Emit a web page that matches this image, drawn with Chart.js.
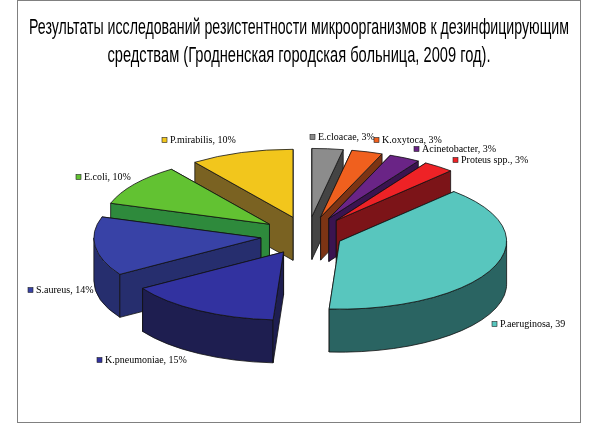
<!DOCTYPE html>
<html>
<head>
<meta charset="utf-8">
<script src="https://cdn.jsdelivr.net/npm/chart.js@4"></script>
<style>
  html, body { margin: 0; padding: 0; background: #fff; }
</style>
</head>
<body>
<canvas id="chart" width="600" height="424"></canvas>
<script>
// data (percent of isolates)
const organisms = ['E.cloacae', 'K.oxytoca', 'Acinetobacter', 'Proteus spp.', 'P.aeruginosa', 'K.pneumoniae', 'S.aureus', 'E.coli', 'P.mirabilis'];
const shares = [3, 3, 3, 3, 39, 15, 14, 10, 10];
const sliceLabels = ['E.cloacae, 3%', 'K.oxytoca, 3%', 'Acinetobacter, 3%', 'Proteus spp., 3%', 'P.aeruginosa, 39', 'K.pneumoniae, 15%', 'S.aureus, 14%', 'E.coli, 10%', 'P.mirabilis, 10%'];
const titleLines = ['Результаты исследований резистентности микроорганизмов к дезинфицирующим', 'средствам (Гродненская городская больница, 2009 год).'];

// styling
const topColors = ['#8c8c8c', '#f0601e', '#6a2486', '#ee2226', '#58c6be', '#3232a0', '#3842a6', '#62c232', '#f2c61c'];
const sideColors = ['#444444', '#7c3414', '#3a1450', '#7c1418', '#2a6462', '#1e1e50', '#262e6e', '#2e8a3c', '#7a6222'];
const explode = [47, 47, 47, 47, 35, 47, 47, 47, 47];
// where each slice label (key square) sits: left x, middle y
const labelSpots = [[310, 137], [374, 140], [414, 149], [453, 160], [492, 324], [97, 360], [28, 290], [76, 177], [162, 140]];
// title lines: baseline y and the width each line is squeezed into (narrow face)
const titleBaselines = [34, 62];
const titleWidths = [540, 383];

function rimPoint(p, a, o, dy) {
    return [p.px + Math.cos(a) * o.rx, p.py + Math.sin(a) * o.ry + dy];
}

function drawRadialWall(ctx, p, a, o) {
    let [x, y] = rimPoint(p, a, o, 0);
    ctx.beginPath();
    ctx.moveTo(p.px, p.py);
    ctx.lineTo(x, y);
    ctx.lineTo(x, y + o.depth);
    ctx.lineTo(p.px, p.py + o.depth);
    ctx.closePath();
    ctx.fill();
    ctx.stroke();
}

function drawSlice(ctx, p, o) {
    let arc = p.arc;
    let s = arc.startAngle, e = arc.endAngle;
    ctx.save();
    ctx.lineWidth = o.lineWidth;
    ctx.strokeStyle = o.lineColor;
    ctx.lineJoin = 'round';
    ctx.fillStyle = o.sideColors[p.i];

    let startFront = Math.cos(s) < 0;
    let endFront = Math.cos(e) > 0;
    if (!startFront) drawRadialWall(ctx, p, s, o);
    if (!endFront) drawRadialWall(ctx, p, e, o);

    // outer curved wall, only the half facing us
    let lo = Math.max(s, 0), hi = Math.min(e, Math.PI);
    if (lo < hi) {
        ctx.beginPath();
        ctx.ellipse(p.px, p.py, o.rx, o.ry, 0, lo, hi, false);
        let [bx, by] = rimPoint(p, hi, o, o.depth);
        ctx.lineTo(bx, by);
        ctx.ellipse(p.px, p.py + o.depth, o.rx, o.ry, 0, hi, lo, true);
        ctx.closePath();
        ctx.fill();
        ctx.stroke();
    }

    if (startFront) drawRadialWall(ctx, p, s, o);
    if (endFront) drawRadialWall(ctx, p, e, o);

    // top face: the library's own arc, squashed into the tilted plane
    ctx.save();
    ctx.translate(p.px, p.py);
    ctx.scale(o.rx / arc.outerRadius, o.ry / arc.outerRadius);
    ctx.translate(-arc.x, -arc.y);
    arc.draw(ctx);
    ctx.restore();

    let [sx, sy] = rimPoint(p, s, o, 0);
    ctx.beginPath();
    ctx.moveTo(p.px, p.py);
    ctx.lineTo(sx, sy);
    ctx.ellipse(p.px, p.py, o.rx, o.ry, 0, s, e, false);
    ctx.closePath();
    ctx.stroke();
    ctx.restore();
}

const pie3d = {
    id: 'pie3d',
    beforeDraw(chart, args, o) {
        let ctx = chart.ctx;
        ctx.save();
        ctx.strokeStyle = '#808080';
        ctx.lineWidth = 1;
        ctx.strokeRect(17.5, 0.5, 563, 422);

        // title, squeezed horizontally like Arial Narrow
        ctx.font = '22px "Liberation Sans", Arial, sans-serif';
        ctx.fillStyle = '#000';
        ctx.textAlign = 'center';
        ctx.textBaseline = 'alphabetic';
        titleLines.forEach((line, i) => {
            let w = ctx.measureText(line).width;
            ctx.save();
            ctx.translate(299, titleBaselines[i]);
            ctx.scale(titleWidths[i] / w, 1);
            ctx.fillText(line, 0, 0);
            ctx.restore();
        });
        ctx.restore();
    },
    beforeDatasetsDraw(chart, args, o) {
        let ctx = chart.ctx;
        let k = o.ry / o.rx;
        let parts = chart.getDatasetMeta(0).data.map((arc, i) => {
            let mid = (arc.startAngle + arc.endAngle) / 2;
            let d = o.explode[i];
            let px = o.cx + Math.cos(mid) * d;
            let py = o.cy + Math.sin(mid) * d * k;
            return { arc: arc, i: i, px: px, py: py, order: py + Math.sin(mid) * o.ry * 0.5 };
        });
        parts.sort((a, b) => a.order - b.order);
        parts.forEach(p => drawSlice(ctx, p, o));

        // slice labels with key squares
        ctx.save();
        ctx.font = '10px "Liberation Serif", "Times New Roman", serif';
        ctx.textBaseline = 'middle';
        chart.data.labels.forEach((name, i) => {
            let [lx, ly] = o.labelSpots[i];
            ctx.fillStyle = topColors[i];
            ctx.fillRect(lx, ly - 2.5, 5, 5);
            ctx.strokeStyle = '#222';
            ctx.lineWidth = 0.6;
            ctx.strokeRect(lx, ly - 2.5, 5, 5);
            ctx.fillStyle = '#000';
            ctx.fillText(sliceLabels[i], lx + 8, ly + 0.5);
        });
        ctx.restore();
        return false;
    }
};

new Chart(document.getElementById('chart'), {
    type: 'pie',
    data: {
        labels: organisms,
        datasets: [{
            data: shares,
            backgroundColor: topColors,
            borderWidth: 0
        }]
    },
    options: {
        responsive: false,
        animation: false,
        events: [],
        layout: { padding: 0 },
        plugins: {
            legend: { display: false },
            tooltip: { enabled: false },
            title: { display: false },
            pie3d: {
                cx: 307.5,
                cy: 235.5,
                rx: 167,
                ry: 68,
                depth: 43,
                explode: explode,
                sideColors: sideColors,
                labelSpots: labelSpots,
                lineWidth: 0.8,
                lineColor: '#111'
            }
        }
    },
    plugins: [pie3d]
});
</script>
</body>
</html>
